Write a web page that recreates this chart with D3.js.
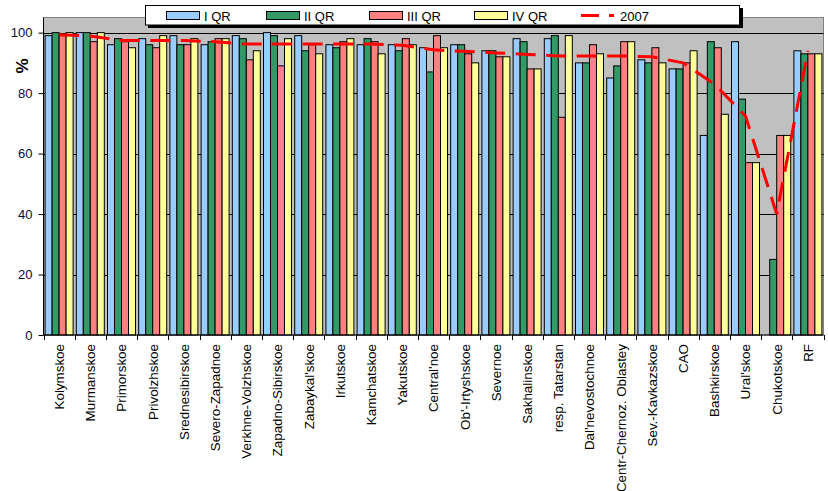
<!DOCTYPE html>
<html><head><meta charset="utf-8">
<script src="https://cdn.jsdelivr.net/npm/d3@7"></script>
<style>
html,body{margin:0;padding:0;background:#fff;}
text{font-family:"Liberation Sans",Arial,sans-serif;}
</style></head>
<body><svg id="c" width="828" height="491"></svg>
<script>
const categories = ["Kolymskoe","Murmanskoe","Primorskoe","Privolzhskoe","Srednesibirskoe","Severo-Zapadnoe","Verkhne-Volzhskoe","Zapadno-Sibirskoe","Zabaykal'skoe","Irkutskoe","Kamchatskoe","Yakutskoe","Central'noe","Ob'-Irtyshskoe","Severnoe","Sakhalinskoe","resp. Tatarstan","Dal'nevostochnoe","Centr-Chernoz. Oblastey","Sev.-Kavkazskoe","CAO","Bashkirskoe","Ural'skoe","Chukotskoe","RF"];
const q1 = [99,100,96,98,99,96,99,100,99,96,96,96,95,96,94,98,98,90,85,91,88,66,97,null,94];
const q2 = [100,100,98,96,96,97,98,99,94,95,98,94,87,96,94,97,99,90,89,90,88,97,78,25,93];
const q3 = [99,97,97,95,96,98,91,89,96,97,97,98,99,93,92,88,72,96,97,95,90,95,57,66,93];
const q4 = [100,100,95,99,98,98,94,98,93,98,93,96,95,90,92,88,99,93,97,90,94,73,57,66,93];
const y2007 = [99.3,98.9,97.4,97.4,97.4,97,96.2,96.2,96.2,96.2,96.2,95.8,94.3,93.8,93.3,92.8,92.3,92.3,92.3,92,90,83,72.4,40,94];
const seriesNames = ["I QR","II QR","III QR","IV QR"];
const seriesColors = ["#99CCFF","#339966","#FF8080","#FFFF99"];
const lineName = "2007";
const yTicks = [0,20,40,60,80,100];

const svg = d3.select("#c");
const L = 43.5, R = 823.5, T = 17.5, B = 335;
const x = d3.scaleBand().domain(categories).range([L, R]).padding(0);
const xi = d3.scaleBand().domain(seriesNames).range([1.6, x.bandwidth() - 1.6]).padding(0);
const y = d3.scaleLinear().domain([0, 105]).range([B, T]);

// plot background
svg.append("rect").attr("x", L).attr("y", T).attr("width", R - L).attr("height", B - T)
  .attr("fill", "#C0C0C0").attr("stroke", "#808080").attr("stroke-width", 1);

// gridlines
svg.append("g").selectAll("line").data(yTicks.filter(d => d > 0)).join("line")
  .attr("x1", L).attr("x2", R)
  .attr("y1", d => Math.round(y(d)) + 0.5).attr("y2", d => Math.round(y(d)) + 0.5)
  .attr("stroke", "#000").attr("stroke-width", 1);

// bars
const allSeries = [q1, q2, q3, q4];
seriesNames.forEach((name, si) => {
  const vals = allSeries[si];
  svg.append("g").selectAll("rect")
    .data(categories.map((c, i) => ({c, v: vals[i]})).filter(d => d.v != null))
    .join("rect")
    .attr("x", d => x(d.c) + xi(name))
    .attr("y", d => y(d.v))
    .attr("width", xi.bandwidth())
    .attr("height", d => B - y(d.v))
    .attr("fill", seriesColors[si])
    .attr("stroke", "#000").attr("stroke-width", 1);
});

// y axis
const yAxis = d3.axisLeft(y).tickValues(yTicks).tickSize(5).tickPadding(6);
const gy = svg.append("g").attr("transform", `translate(${L},0)`).call(yAxis);
gy.select(".domain").attr("stroke", "#000").attr("d", `M0,${T}V${B}`);
gy.selectAll(".tick line").attr("stroke", "#000");
gy.selectAll(".tick text").attr("font-size", 13).attr("fill", "#0a0a3a")
  .attr("font-family", "Liberation Sans, Arial, sans-serif");

// x axis
const xAxis = d3.axisBottom(x).tickSize(0).tickFormat("");
const gx = svg.append("g").attr("transform", `translate(0,${B})`).call(xAxis);
gx.select(".domain").attr("stroke", "#000").attr("d", `M${L},0H${R}`);
gx.selectAll(".tick").remove();
const bounds = categories.map(c => x(c)).concat([R]);
gx.selectAll("line.bt").data(bounds).join("line").attr("class", "bt")
  .attr("x1", d => Math.round(d) + 0.5).attr("x2", d => Math.round(d) + 0.5)
  .attr("y1", 0).attr("y2", 5).attr("stroke", "#000");
svg.append("g").selectAll("text").data(categories).join("text")
  .attr("transform", c => `translate(${x(c) + x.bandwidth() / 2 + 4.8},${B + 9}) rotate(-90)`)
  .attr("text-anchor", "end")
  .attr("font-size", 13.4)
  .attr("fill", "#000")
  .text(c => c);

// 2007 line
const line = d3.line()
  .x((d, i) => x(categories[i]) + x.bandwidth() / 2)
  .y(d => y(d));
svg.append("path").datum(y2007).attr("d", line)
  .attr("fill", "none").attr("stroke", "#FF0000").attr("stroke-width", 3)
  .attr("stroke-dasharray", "20,10.5");

// % label
svg.append("text").attr("transform", "translate(28,66) rotate(-90)")
  .attr("text-anchor", "middle").attr("font-size", 17).attr("font-weight", "bold")
  .attr("fill", "#000").text("%");

// legend
const lg = svg.append("g");
lg.append("rect").attr("x", 148).attr("y", 8).attr("width", 595).attr("height", 20).attr("fill", "#000");
lg.append("rect").attr("x", 145.5).attr("y", 5.5).attr("width", 594).attr("height", 19.5)
  .attr("fill", "#fff").attr("stroke", "#000").attr("stroke-width", 1);
const legX = [166, 266, 369, 474];
seriesNames.forEach((name, i) => {
  lg.append("rect").attr("x", legX[i] + 0.5).attr("y", 11.5).attr("width", 33).attr("height", 8)
    .attr("fill", seriesColors[i]).attr("stroke", "#000");
  lg.append("text").attr("x", legX[i] + 38).attr("y", 20.5).attr("font-size", 13)
    .attr("fill", "#000").text(name);
});
lg.append("line").attr("x1", 581).attr("x2", 614).attr("y1", 15.5).attr("y2", 15.5)
  .attr("stroke", "#FF0000").attr("stroke-width", 3).attr("stroke-dasharray", "18,10");
lg.append("text").attr("x", 620).attr("y", 20.5).attr("font-size", 13).attr("fill", "#000").text(lineName);
</script></body></html>
